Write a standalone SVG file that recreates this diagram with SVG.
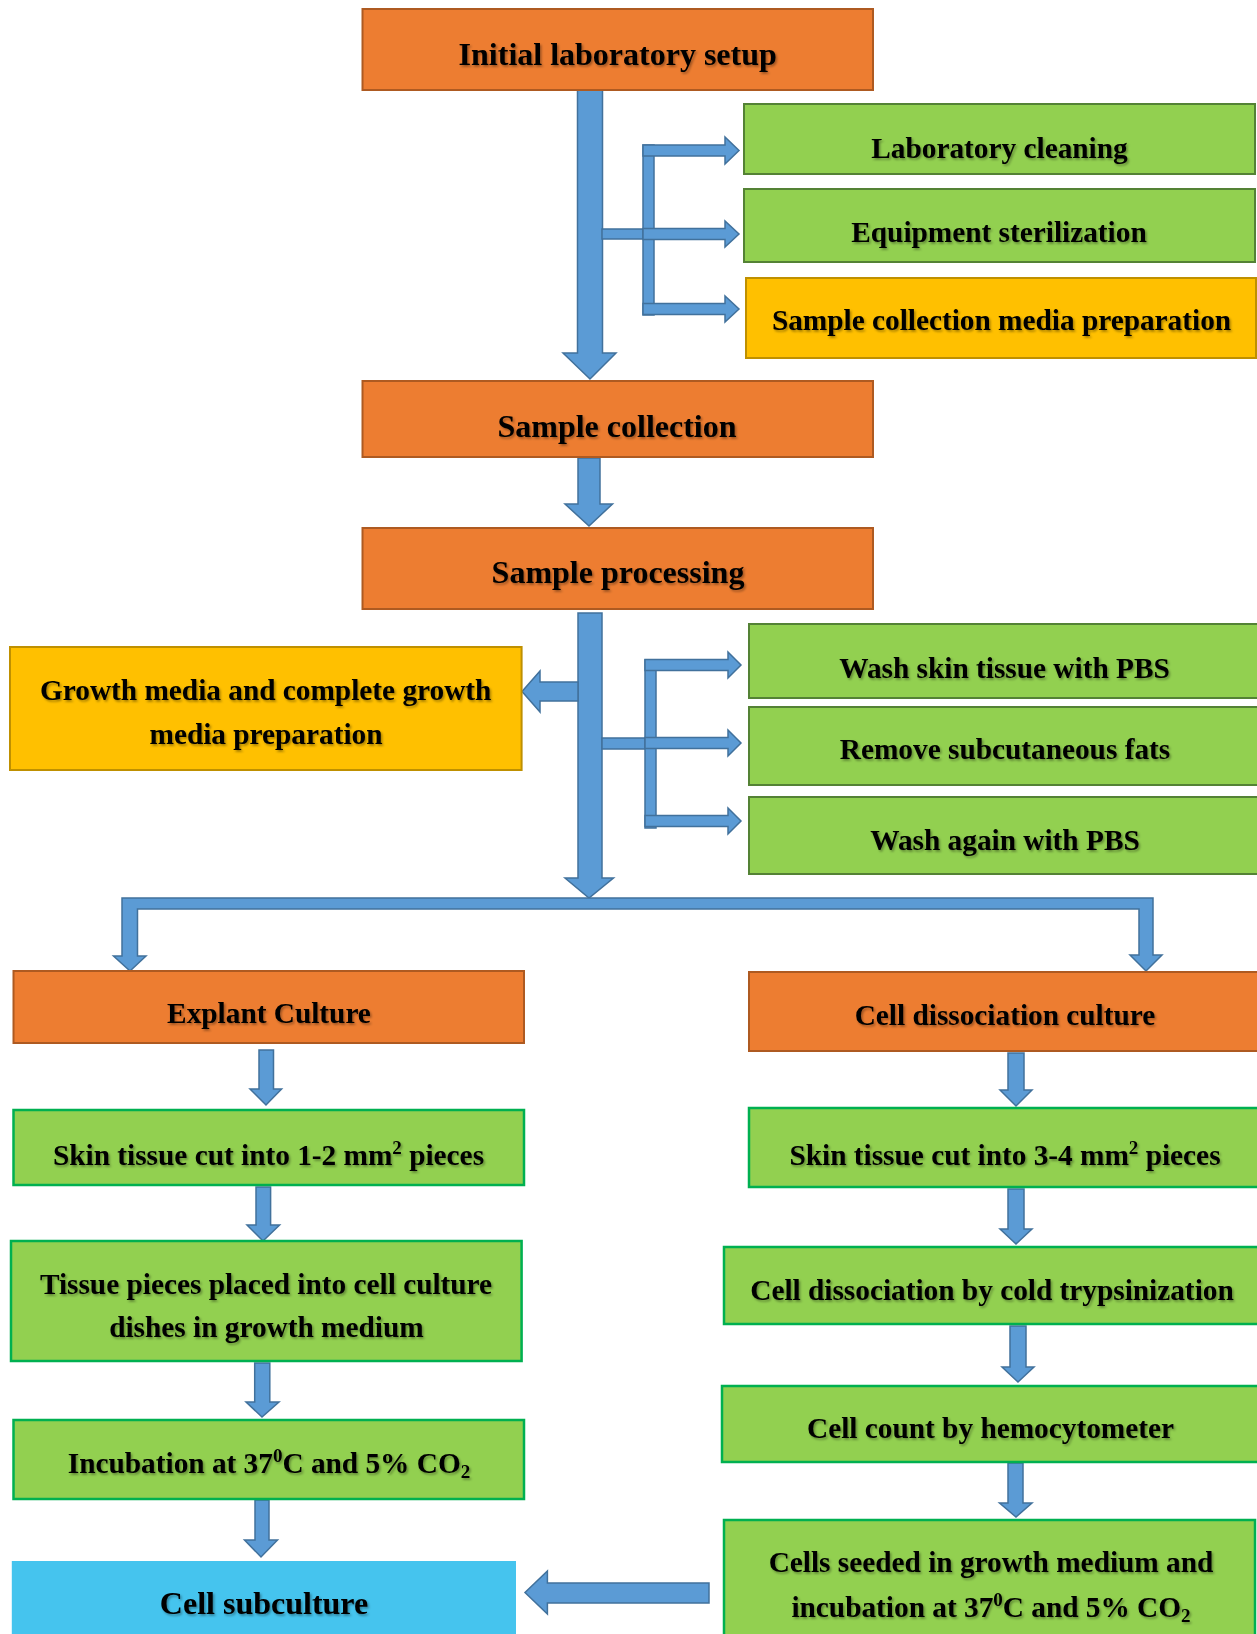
<svg xmlns="http://www.w3.org/2000/svg" width="1257" height="1634" viewBox="0 0 1257 1634">
<defs>
<filter id="sh" x="-5%" y="-20%" width="110%" height="150%">
<feDropShadow dx="1.5" dy="1.8" stdDeviation="1" flood-color="#000" flood-opacity="0.35"/>
</filter>
<style>
.or{fill:#ED7D31;stroke:#AE5A21;stroke-width:2}
.gd{fill:#92D050;stroke:#548235;stroke-width:2}
.gb{fill:#92D050;stroke:#00B050;stroke-width:2.5}
.ye{fill:#FFC000;stroke:#BF9000;stroke-width:2}
.cy{fill:#45C4EE;stroke:none}
.ar{fill:#5B9BD5;stroke:#41719C;stroke-width:1.5;stroke-linejoin:miter}
text{font-family:"Liberation Serif","Times New Roman",serif;font-weight:bold;fill:#000;text-anchor:middle;filter:url(#sh)}
.b{font-size:32px}
.t{font-size:29.3px}
.sup{font-size:19px}
</style>
</defs>

<g id="connectors">
<!-- main arrow 1 -->
<path class="ar" d="M577.5,90 H602.5 V353 H616 L590,379 L563,353 H577.5 Z"/>
<!-- branch 1 -->
<rect class="ar" x="602" y="229" width="46" height="10"/>
<rect class="ar" x="643" y="145" width="11" height="170"/>
<path class="ar" d="M643,145 H725 V137 L739,150.5 L725,164 V156 H643 Z"/>
<path class="ar" d="M643,228.5 H725 V221 L739,234 L725,247 V239.5 H643 Z"/>
<path class="ar" d="M643,303.5 H725 V296 L739,309 L725,322 V314.5 H643 Z"/>
<!-- sample collection to processing -->
<path class="ar" d="M578,458 H600 V504 H612.5 L589,526 L565,504 H578 Z"/>
<!-- main arrow 2 -->
<path class="ar" d="M578,613 H602 V878 H613.5 L589,898 L565,878 H578 Z"/>
<!-- left arrow to growth media -->
<path class="ar" d="M578,682 V701 H540 V712 L522,691.5 L540,671 V682 Z"/>
<!-- branch 2 -->
<rect class="ar" x="602" y="738" width="48" height="11"/>
<rect class="ar" x="645" y="660" width="11" height="168"/>
<path class="ar" d="M645,659.5 H728 V652 L741,665 L728,678 V670.5 H645 Z"/>
<path class="ar" d="M645,737.5 H728 V730 L741,743 L728,756 V748.5 H645 Z"/>
<path class="ar" d="M645,815.5 H728 V808 L741,821 L728,834 V826.5 H645 Z"/>
<!-- distribution bar -->
<path class="ar" d="M122,898 H1153 V955 H1162 L1146,971 L1130,955 H1139 V909 H137.5 V956 H146 L130,971 L113.5,956 H122 Z"/>
<!-- left column arrows -->
<path class="ar" d="M259,1050 H273.5 V1089 H281.6 L266,1105 L250,1089 H259 Z"/>
<path class="ar" d="M256,1187 H270.6 V1225 H279.6 L263,1241 L247,1225 H256 Z"/>
<path class="ar" d="M254.7,1363 H269.8 V1402 H279 L262,1417 L246,1402 H254.7 Z"/>
<path class="ar" d="M255,1500 H269 V1540 H277.5 L261,1557 L244.5,1540 H255 Z"/>
<!-- right column arrows -->
<path class="ar" d="M1008,1053 H1024 V1090 H1032 L1016,1106 L1000,1090 H1008 Z"/>
<path class="ar" d="M1008,1189 H1024 V1229 H1032 L1016,1244 L1000,1229 H1008 Z"/>
<path class="ar" d="M1010,1326 H1026 V1367 H1034 L1018,1382 L1002,1367 H1010 Z"/>
<path class="ar" d="M1008,1463 H1023 V1503 H1032 L1016,1517 L999.5,1503 H1008 Z"/>
<!-- left arrow to subculture -->
<path class="ar" d="M709,1583 V1603 H547.4 V1614 L525,1592.5 L547.4,1571 V1583 Z"/>
</g>

<g id="n-initial">
<rect class="or" x="362.5" y="9" width="510.5" height="81"/>
<text class="b" x="617.7" y="65">Initial laboratory setup</text>
</g>
<g id="n-labclean">
<rect class="gd" x="744" y="104" width="511" height="70"/>
<text class="t" x="999.5" y="158">Laboratory cleaning</text>
</g>
<g id="n-equip">
<rect class="gd" x="744" y="189" width="511" height="73"/>
<text class="t" x="999" y="242">Equipment sterilization</text>
</g>
<g id="n-samplemedia">
<rect class="ye" x="746" y="278" width="510" height="80"/>
<text class="t" x="1001.5" y="330">Sample collection media preparation</text>
</g>
<g id="n-samplecollection">
<rect class="or" x="362.5" y="381" width="510.5" height="76"/>
<text class="b" x="617" y="437">Sample collection</text>
</g>
<g id="n-sampleprocessing">
<rect class="or" x="362.5" y="528" width="510.5" height="81"/>
<text class="b" x="618" y="583">Sample processing</text>
</g>
<g id="n-growthmedia">
<rect class="ye" x="10" y="647" width="511.6" height="123"/>
<text class="t" x="265.7" y="700">Growth media and complete growth</text>
<text class="t" x="266" y="744">media preparation</text>
</g>
<g id="n-washskin">
<rect class="gd" x="749" y="624" width="515" height="74"/>
<text class="t" x="1004.5" y="678">Wash skin tissue with PBS</text>
</g>
<g id="n-removefats">
<rect class="gd" x="749" y="707" width="515" height="78"/>
<text class="t" x="1005" y="759">Remove subcutaneous fats</text>
</g>
<g id="n-washagain">
<rect class="gd" x="749" y="797" width="515" height="77"/>
<text class="t" x="1005" y="850">Wash again with PBS</text>
</g>
<g id="n-explant">
<rect class="or" x="13.5" y="971" width="510.5" height="72"/>
<text class="t" x="269" y="1023">Explant Culture</text>
</g>
<g id="n-celldiss">
<rect class="or" x="749" y="972" width="515" height="79"/>
<text class="t" x="1005" y="1025">Cell dissociation culture</text>
</g>
<g id="n-skin12">
<rect class="gb" x="13.5" y="1110" width="510.5" height="75"/>
<text class="t" x="268.5" y="1165">Skin tissue cut into 1-2 mm<tspan class="sup" dy="-11">2</tspan><tspan dy="11"> pieces</tspan></text>
</g>
<g id="n-skin34">
<rect class="gb" x="749" y="1108" width="515" height="79"/>
<text class="t" x="1005" y="1165">Skin tissue cut into 3-4 mm<tspan class="sup" dy="-11">2</tspan><tspan dy="11"> pieces</tspan></text>
</g>
<g id="n-tissuepieces">
<rect class="gb" x="11" y="1241" width="510.6" height="120"/>
<text class="t" x="266" y="1294">Tissue pieces placed into cell culture</text>
<text class="t" x="266.4" y="1337">dishes in growth medium</text>
</g>
<g id="n-coldtryp">
<rect class="gb" x="724" y="1247" width="540" height="77"/>
<text class="t" x="992" y="1300">Cell dissociation by cold trypsinization</text>
</g>
<g id="n-incubation">
<rect class="gb" x="13.5" y="1420" width="510.5" height="79"/>
<text class="t" x="269" y="1473">Incubation at 37<tspan class="sup" dy="-11">0</tspan><tspan dy="11">C and 5% CO</tspan><tspan class="sup" dy="5">2</tspan></text>
</g>
<g id="n-cellcount">
<rect class="gb" x="722" y="1386" width="542" height="76"/>
<text class="t" x="990.5" y="1438">Cell count by hemocytometer</text>
</g>
<g id="n-cellsseeded">
<rect class="gb" x="724" y="1520" width="531" height="125"/>
<text class="t" x="991" y="1572">Cells seeded in growth medium and</text>
<text class="t" x="991" y="1617">incubation at 37<tspan class="sup" dy="-11">0</tspan><tspan dy="11">C and 5% CO</tspan><tspan class="sup" dy="5">2</tspan></text>
</g>
<g id="n-subculture">
<rect class="cy" x="11.8" y="1561" width="504.2" height="80"/>
<text class="b" x="264" y="1614">Cell subculture</text>
</g>
</svg>
